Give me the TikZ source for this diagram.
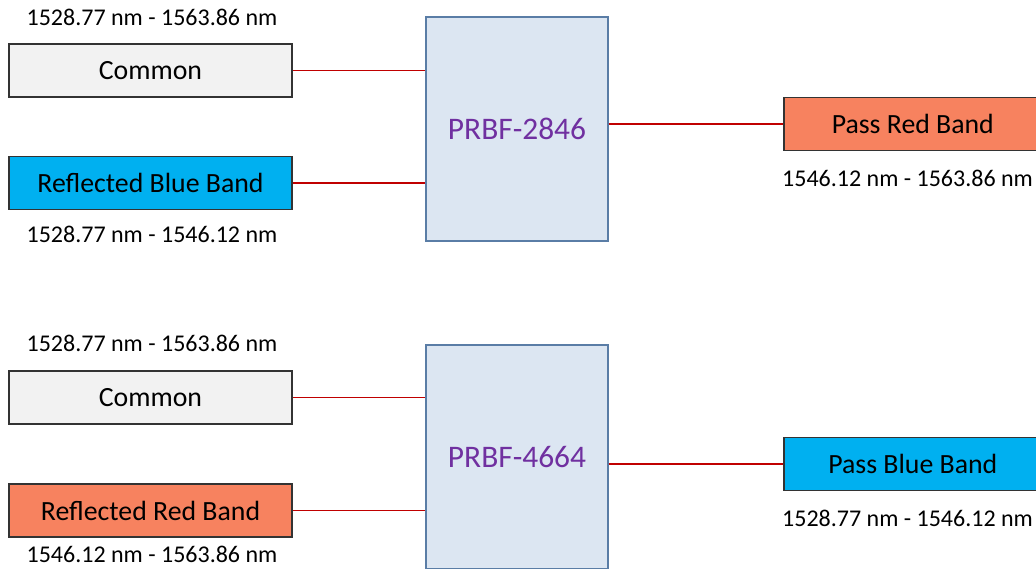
\documentclass[tikz,border=0pt]{standalone}
\usepackage{fontspec}
\setmainfont{Carlito}
\usetikzlibrary{positioning}
\definecolor{bandgrey}{HTML}{F2F2F2}
\definecolor{bandblue}{HTML}{00B0F0}
\definecolor{bandred}{HTML}{F7825F}
\definecolor{filterfill}{HTML}{DCE6F2}
\definecolor{filterdraw}{HTML}{5A7DA6}
\definecolor{filtertext}{HTML}{7030A0}
\definecolor{fibrered}{HTML}{C00000}
\tikzset{
	bandnode/.style={
			rectangle,
			draw=black!80,
			line width=1.6pt,
			minimum width=283pt,
			minimum height=53pt,
			inner sep=0pt,
			font=\fontsize{27.8}{32}\selectfont
		},
	commonnode/.style={
			bandnode,
			fill=bandgrey
		},
	bluenode/.style={
			bandnode,
			fill=bandblue
		},
	rednode/.style={
			bandnode,
			fill=bandred
		},
	passnode/.style={
			minimum width=258pt
		},
	filternode/.style={
			rectangle,
			draw=filterdraw,
			fill=filterfill,
			line width=1.4pt,
			minimum width=182pt,
			minimum height=224pt,
			inner sep=0pt,
			text=filtertext,
			font=\fontsize{31.4}{36}\selectfont
		},
	rangenode/.style={
			inner sep=0pt,
			font=\fontsize{24}{28}\selectfont
		},
	fibre/.style={
			draw=fibrered,
			line width=1.3pt
		}
}
\begin{document}
\begin{tikzpicture}[x=1pt, y=-1pt]
\clip (0,0) rectangle (1036,569);
\fill[white] (0,0) rectangle (1036,569);

% PRBF-2846
\node[commonnode] (c1) at (150.5,70.5) {Common};
\node[bluenode] (b1) at (150.5,183) {Reflected Blue Band};
\node[filternode] (f1) at (517,129) {PRBF-2846};
\node[rednode, passnode, anchor=west] (p1) at (783,124) {Pass Red Band};
\node[rangenode] (c1r) at (152,17) {1528.77 nm - 1563.86 nm};
\node[rangenode] (b1r) at (152,234) {1528.77 nm - 1546.12 nm};
\node[rangenode, anchor=west] (p1r) at (782,178) {1546.12 nm - 1563.86 nm};

\draw[fibre] (c1.east) -- (c1.east -| f1.west);
\draw[fibre] (b1.east) -- (b1.east -| f1.west);
\draw[fibre] (f1.east |- p1.west) -- (p1.west);

% PRBF-4664
\node[commonnode] (c2) at (150.5,397.5) {Common};
\node[rednode] (r2) at (150.5,510.5) {Reflected Red Band};
\node[filternode] (f2) at (517,457) {PRBF-4664};
\node[bluenode, passnode, anchor=west] (p2) at (783,464) {Pass Blue Band};
\node[rangenode] (c2r) at (152,343) {1528.77 nm - 1563.86 nm};
\node[rangenode] (r2r) at (152,554.5) {1546.12 nm - 1563.86 nm};
\node[rangenode, anchor=west] (p2r) at (782,518) {1528.77 nm - 1546.12 nm};

\draw[fibre] (c2.east) -- (c2.east -| f2.west);
\draw[fibre] (r2.east) -- (r2.east -| f2.west);
\draw[fibre] (f2.east |- p2.west) -- (p2.west);
\end{tikzpicture}
\end{document}
